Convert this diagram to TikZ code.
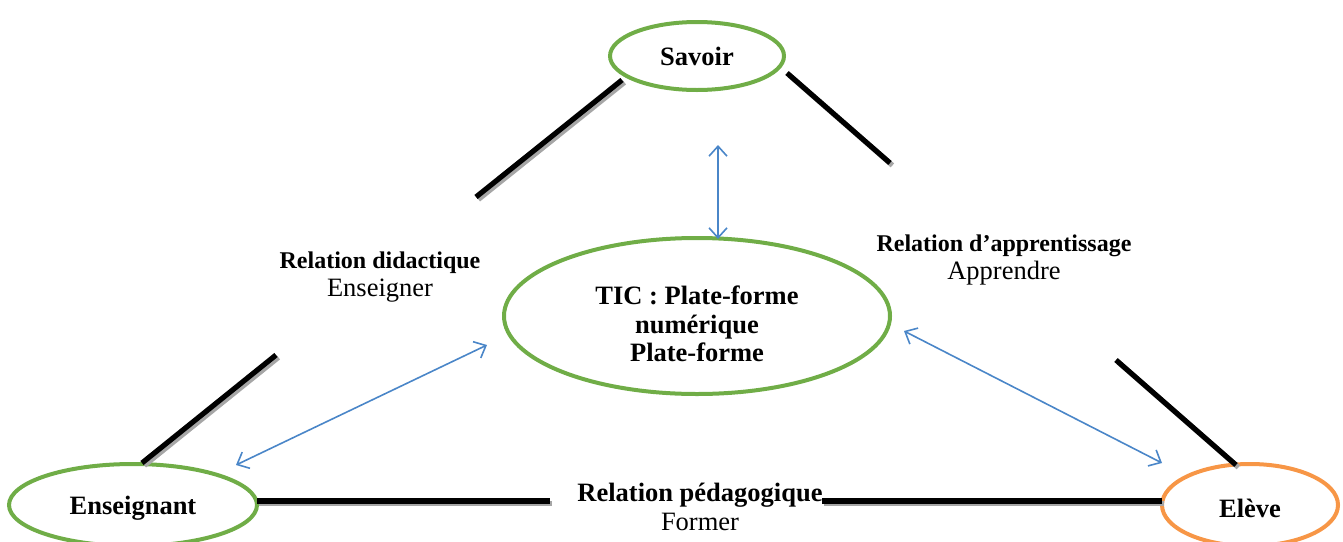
\documentclass[tikz,border=0pt]{standalone}
\usepackage{fontspec}
\setmainfont{Liberation Serif}
\usetikzlibrary{shapes.geometric,arrows.meta}
\definecolor{polegreen}{HTML}{70AD47}
\definecolor{poleorange}{HTML}{F79646}
\definecolor{linkblue}{HTML}{4A86C8}
\definecolor{barshade}{HTML}{A6A6A6}
\begin{document}
\begin{tikzpicture}[x=0.5pt,y=-0.5pt,
  pole/.style={ellipse, draw=polegreen, line width=2pt, inner sep=0pt,
    font=\fontsize{13.25}{14.25}\selectfont\bfseries, align=center},
  rel/.style={align=center, inner sep=0pt, font=\fontsize{13.25}{14.25}\selectfont},
  relhead/.style={font=\fontsize{12}{14}\selectfont\bfseries},
  bar/.style={line width=2.6pt, black},
  barshadow/.style={line width=2.6pt, barshade,
    transform canvas={xshift=1.2pt, yshift=-1.2pt}},
  link/.style={linkblue, line width=0.8pt,
    {Straight Barb[length=5pt,width=9pt]}-{Straight Barb[length=5pt,width=9pt]}}]
\useasboundingbox (0,0) rectangle (1343,541);
\clip (0,0) rectangle (1343,541);

% the four poles
\node[pole, minimum width=87pt, minimum height=34pt] (savoir) at (697,56) {Savoir};
\node[pole, minimum width=193pt, minimum height=78pt] (tic) at (697,316) {};
\node[pole, draw=none] (ticlabel) at (697,324) {TIC : Plate-forme\\numérique\\Plate-forme};
\node[pole, minimum width=124pt, minimum height=41pt] (ens) at (133,505) {};
\node[pole, draw=none] (enslabel) at (133,508) {Enseignant};
\node[pole, draw=poleorange, minimum width=88pt, minimum height=41pt] (eleve) at (1250,505) {};
\node[pole, draw=none] (elevelabel) at (1250,508) {Elève};

% relation labels
\node[rel] (didac) at (380,277) {{\fontsize{12}{14}\selectfont\bfseries Relation didactique}\\Enseigner};
\node[rel] (appr) at (1004,260) {{\fontsize{12}{14}\selectfont\bfseries Relation d’apprentissage}\\Apprendre};
\node[rel] (peda) at (700,507) {\textbf{Relation pédagogique}\\Former};

% end points of the triangle sides
\coordinate (a1) at (622,80);   \coordinate (a2) at (476,197);
\coordinate (b1) at (787,73);   \coordinate (b2) at (890,163);
\coordinate (c1) at (276,355);  \coordinate (c2) at (142,463);
\coordinate (d1) at (1116,360); \coordinate (d2) at (1236,465);
\coordinate (e1) at (257,501);  \coordinate (e2) at (550,501);
\coordinate (f1) at (822,501);  \coordinate (f2) at (1162,501);

% triangle sides with their shadow
\foreach \p/\q in {a1/a2,b1/b2,c1/c2,d1/d2,e1/e2,f1/f2}{
  \draw[barshadow] (\p) -- (\q);
  \draw[bar] (\p) -- (\q);
}

% links of the platform with each pole
\coordinate (v1) at (718,145);  \coordinate (v2) at (718,239);
\coordinate (l1) at (487,345);  \coordinate (l2) at (236,465);
\coordinate (r1) at (904,331);  \coordinate (r2) at (1162,463);
\draw[link] (v1) -- (v2);
\draw[link] (l1) -- (l2);
\draw[link] (r1) -- (r2);
\end{tikzpicture}
\end{document}
